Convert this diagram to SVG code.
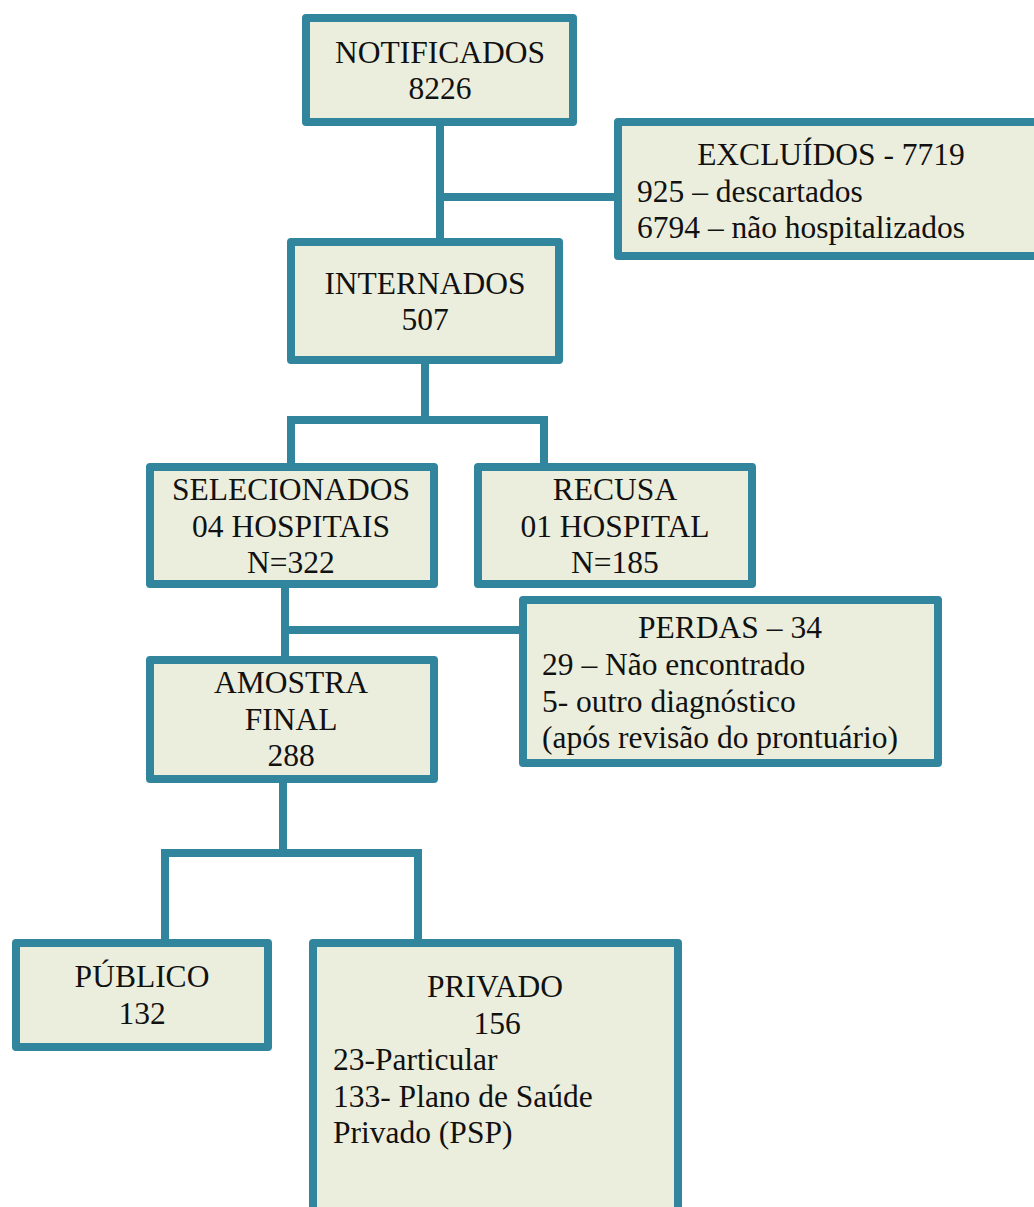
<svg xmlns="http://www.w3.org/2000/svg" width="1034" height="1207" viewBox="0 0 1034 1207">
<style>
.box{fill:#EBEEDD;stroke:#31859C;stroke-width:8;stroke-linejoin:round}
.ln{stroke:#31859C;stroke-width:8;fill:none;stroke-linejoin:miter}
text{font-family:"Liberation Serif","Times New Roman",serif;font-size:31.5px;fill:#111}
.c{text-anchor:middle}
</style>
<rect width="1034" height="1207" fill="#ffffff"/>
<g id="connectors">
<path class="ln" d="M440 122V242M440 197H618"/>
<path class="ln" d="M425 360V420M291 467V420H544V467"/>
<path class="ln" d="M285 584V660M285 630H524"/>
<path class="ln" d="M283 779V853M165 943V853H418V943"/>
</g>
<g id="notificados">
<rect class="box" x="306" y="18" width="267" height="104"/>
<text class="c" x="440" y="63">NOTIFICADOS</text>
<text class="c" x="440" y="99">8226</text>
</g>
<g id="excluidos">
<rect class="box" x="618" y="122" width="440" height="134"/>
<text class="c" x="831" y="165">EXCLUÍDOS - 7719</text>
<text x="637" y="202">925 – descartados</text>
<text x="637" y="238">6794 – não hospitalizados</text>
</g>
<g id="internados">
<rect class="box" x="291" y="242" width="268" height="118"/>
<text class="c" x="425" y="294">INTERNADOS</text>
<text class="c" x="425" y="330">507</text>
</g>
<g id="selecionados">
<rect class="box" x="150" y="467" width="284" height="117"/>
<text class="c" x="291" y="500">SELECIONADOS</text>
<text class="c" x="291" y="537">04 HOSPITAIS</text>
<text class="c" x="291" y="573">N=322</text>
</g>
<g id="recusa">
<rect class="box" x="478" y="467" width="274" height="117"/>
<text class="c" x="615" y="500">RECUSA</text>
<text class="c" x="615" y="537">01 HOSPITAL</text>
<text class="c" x="615" y="573">N=185</text>
</g>
<g id="perdas">
<rect class="box" x="523" y="600" width="415" height="163"/>
<text class="c" x="730" y="638">PERDAS – 34</text>
<text x="542" y="675">29 – Não encontrado</text>
<text x="542" y="712">5- outro diagnóstico</text>
<text x="542" y="748">(após revisão do prontuário)</text>
</g>
<g id="amostra">
<rect class="box" x="150" y="660" width="284" height="119"/>
<text class="c" x="291" y="693">AMOSTRA</text>
<text class="c" x="291" y="730">FINAL</text>
<text class="c" x="291" y="766">288</text>
</g>
<g id="publico">
<rect class="box" x="16" y="943" width="252" height="104"/>
<text class="c" x="142" y="987">PÚBLICO</text>
<text class="c" x="142" y="1024">132</text>
</g>
<g id="privado">
<rect class="box" x="313" y="943" width="365" height="290"/>
<text class="c" x="495" y="997">PRIVADO</text>
<text class="c" x="497" y="1034">156</text>
<text x="333" y="1070">23-Particular</text>
<text x="333" y="1107">133- Plano de Saúde</text>
<text x="333" y="1143">Privado (PSP)</text>
</g>
</svg>
